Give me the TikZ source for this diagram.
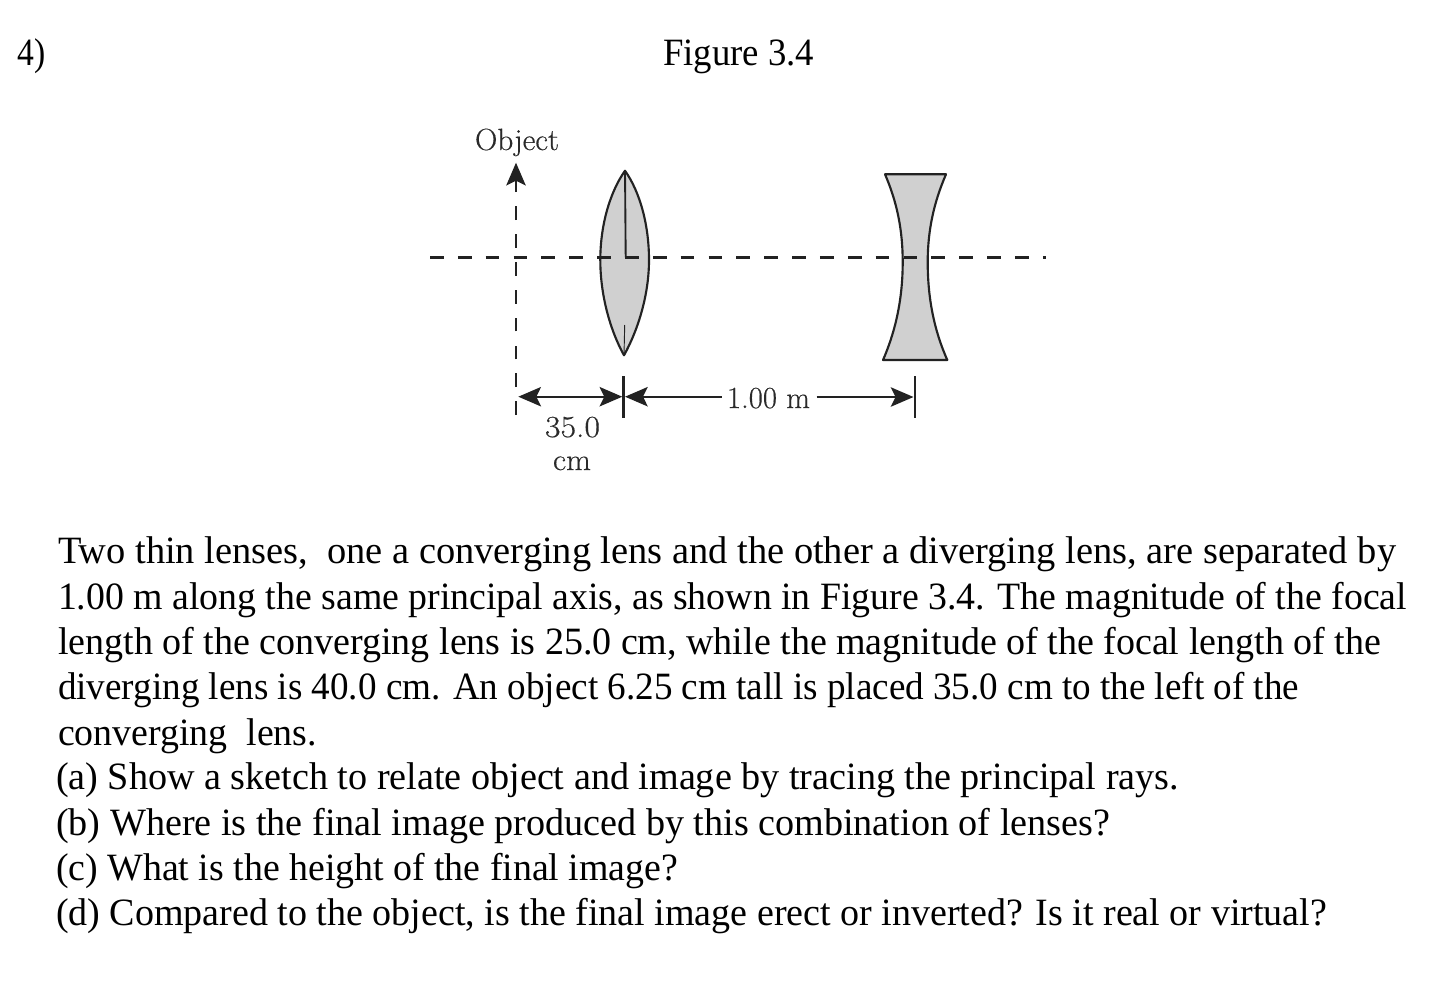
\documentclass[tikz,border=0pt]{standalone}
\usepackage{fontspec}
\usepackage{graphicx}
\usetikzlibrary{arrows.meta}
\setmainfont{Liberation Serif}
\newfontfamily\figfont[FakeBold=0.4]{Latin Modern Roman}
\newcommand{\fitline}[2]{\resizebox{\dimexpr #1pt*3/4\relax}{\height}{#2}}
\definecolor{ink}{HTML}{222222}
\definecolor{lensgray}{HTML}{D0D0D0}
\definecolor{figtext}{HTML}{2A2A2A}
\tikzset{
  textline/.style={anchor=base west,inner sep=0pt,outer sep=0pt,text=black,font=\fontsize{29}{29}\selectfont},
  figlabel/.style={anchor=base,inner sep=0pt,outer sep=0pt,text=figtext,font=\figfont\fontsize{23}{23}\selectfont},
  axisline/.style={draw=ink,line width=2.1pt,dash pattern=on 10.3pt off 10.59pt},
  lensshape/.style={draw=ink,line width=1.6pt,fill=lensgray,line join=round},
  thinline/.style={draw=ink,line width=1.4pt},
  tickline/.style={draw=ink,line width=2pt},
  dimline/.style={draw=ink,line width=1.8pt},
  bigtip/.style={{Stealth[length=17pt,width=14.5pt,inset=3.5pt]}-{Stealth[length=17pt,width=14.5pt,inset=3.5pt]}},
  endtip/.style={-{Stealth[length=17pt,width=14.5pt,inset=3.5pt]}}
}
\begin{document}
\begin{tikzpicture}[x=0.75pt,y=-0.75pt]
\useasboundingbox (0,0) rectangle (1430,996);
% header
\node[textline] (num) at (18,65) {\fitline{28}{4)}};
\node[textline] (figtitle) at (663,65) {\fitline{151}{Figure 3.4}};
% lens 1
\coordinate (L1top) at (625,170.7);
\coordinate (L1bot) at (624,355.3);
\coordinate (L1axis) at (625.7,257.3);
\coordinate (L1low) at (624.7,325);
\path[lensshape] (L1top) .. controls (610,192) and (600.3,225) .. (600.3,260)
  .. controls (600.3,295) and (610,330) .. (L1bot)
  .. controls (638,330) and (649,295) .. (649,260)
  .. controls (649,225) and (640,192) .. (L1top) -- cycle;
\draw[thinline] (L1top) -- (L1axis);
\draw[draw=ink,line width=0.7pt] (L1bot) -- (L1low);
% lens 2
\coordinate (L2tl) at (885,174.3);
\coordinate (L2tr) at (946,174.3);
\coordinate (L2bl) at (883,360);
\coordinate (L2br) at (947.3,360);
\path[lensshape] (L2tl) -- (L2tr)
  .. controls (934,202) and (927.7,230) .. (927.7,262)
  .. controls (927.7,298) and (934,330) .. (L2br)
  -- (L2bl)
  .. controls (896,330) and (902.7,298) .. (902.7,262)
  .. controls (902.7,230) and (897,202) .. (L2tl) -- cycle;
% axis
\coordinate (axL) at (430,257.3);
\coordinate (axR) at (1046,257.3);
\draw[axisline] (axL) -- (axR);
% object
\coordinate (objB) at (516,415);
\coordinate (objM) at (516,178);
\coordinate (objS) at (516,190);
\coordinate (objT) at (516,162.7);
\draw[axisline] (objB) -- (objM);
\draw[dimline,endtip] (objS) -- (objT);
\node[figlabel] (objlabel) at (517,150) {\fitline{84}{Object}};
% dimension ticks
\coordinate (t1a) at (623.7,376);
\coordinate (t1b) at (623.7,418);
\coordinate (t2a) at (915,376);
\coordinate (t2b) at (915,418);
\draw[tickline] (t1a) -- (t1b);
\draw[tickline] (t2a) -- (t2b);
% dimensions
\coordinate (d1L) at (518.3,396.7);
\coordinate (d1R) at (622.3,396.7);
\coordinate (d2L) at (625,396.7);
\coordinate (d2M) at (722,396.7);
\coordinate (d2N) at (816.7,397);
\coordinate (d2R) at (913.5,397);
\draw[dimline,bigtip] (d1L) -- (d1R);
\draw[dimline,{Stealth[length=17pt,width=14.5pt,inset=3.5pt]}-] (d2L) -- (d2M);
\draw[dimline,endtip] (d2N) -- (d2R);
\node[figlabel] (dim1) at (768.5,408) {\fitline{83}{1.00 m}};
\node[figlabel] (dim2a) at (572.5,437) {\fitline{55}{35.0}};
\node[figlabel] (dim2b) at (572,470) {\fitline{38}{cm}};
% paragraph
\node[textline] (p1) at (58,563) {\fitline{1338}{Two thin lenses,\ \ one a converging lens and the other a diverging lens, are separated by}};
\node[textline] (p2) at (58,609) {\fitline{1349}{1.00 m along the same principal axis, as shown in Figure 3.4. The magnitude of the focal}};
\node[textline] (p3) at (58,654) {\fitline{1323}{length of the converging lens is 25.0 cm, while the magnitude of the focal length of the}};
\node[textline] (p4) at (58,699) {\fitline{1241}{diverging lens is 40.0 cm. An object 6.25 cm tall is placed 35.0 cm to the left of the}};
\node[textline] (p5) at (58,745) {\fitline{259}{converging\ \ lens.}};
\node[textline] (qa) at (56,789) {\fitline{1123}{(a) Show a sketch to relate object and image by tracing the principal rays.}};
\node[textline] (qb) at (56,835) {\fitline{1054}{(b) Where is the final image produced by this combination of lenses?}};
\node[textline] (qc) at (56,880) {\fitline{622}{(c) What is the height of the final image?}};
\node[textline] (qd) at (56,925) {\fitline{1271}{(d) Compared to the object, is the final image erect or inverted? Is it real or virtual?}};
\end{tikzpicture}
\end{document}
